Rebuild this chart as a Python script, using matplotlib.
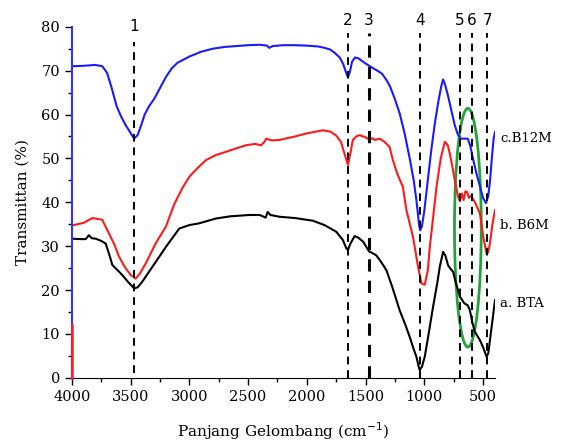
import matplotlib.pyplot as plt
from matplotlib.patches import Ellipse
from matplotlib.ticker import MultipleLocator

# FTIR spectra (wavenumber cm-1, transmittance %)
wn_b12m = [4000, 3900, 3800, 3740, 3700, 3660, 3620, 3580, 3540, 3500, 3470, 3440, 3410, 3380,
           3340, 3300, 3250, 3200, 3150, 3100, 3050, 3000, 2900, 2800, 2700, 2600, 2500, 2400,
           2340, 2320, 2290, 2200, 2100, 2000, 1900, 1850, 1800, 1760, 1720, 1690, 1665, 1650,
           1635, 1615, 1590, 1560, 1520, 1480, 1440, 1400, 1360, 1320, 1290, 1250, 1210, 1170,
           1124, 1090, 1067, 1045, 1035, 1020, 1000, 970, 940, 910, 880, 855, 840, 825, 800,
           770, 740, 715, 690, 660, 630, 610, 590, 560, 530, 500, 475, 455, 440, 425, 410, 398]
t_b12m = [71, 71.1, 71.3, 71, 69.5, 66, 62, 59.5, 57.5, 55.8, 54.5, 55.3, 57.5, 60,
          62, 63.5, 66, 68.5, 70.5, 71.8, 72.5, 73.2, 74.3, 75, 75.4, 75.6, 75.8, 75.9,
          75.7, 75.2, 75.6, 75.8, 75.8, 75.7, 75.5, 75.2, 74.8, 74, 73, 71.5, 69.5, 68.5,
          69.5, 72, 73, 72.8, 72, 71.3, 70.6, 70, 69.3, 67.8, 66.3, 63.5, 60.3, 56,
          50, 45, 40.5, 35, 33.6, 34.5, 38, 45, 52, 58, 63, 66.5, 68, 67, 64.5,
          61, 57.5, 55.5, 54.5, 54.5, 54.5, 53, 50.5, 47, 44, 41, 39.8, 41.5, 45, 50, 54.5, 56]

wn_b6m = [4000, 3900, 3826, 3780, 3741, 3684, 3640, 3598, 3550, 3498, 3456, 3420, 3370, 3285,
          3200, 3129, 3060, 3000, 2930, 2858, 2780, 2688, 2600, 2517, 2440, 2389, 2360, 2346,
          2300, 2233, 2100, 2000, 1864, 1800, 1750, 1710, 1678, 1650, 1630, 1608, 1580, 1550,
          1500, 1465, 1440, 1420, 1380, 1340, 1295, 1267, 1230, 1182, 1152, 1096, 1053, 1024,
          996, 970, 953, 925, 896, 860, 825, 800, 783, 760, 740, 712, 697, 680, 665, 650,
          635, 620, 600, 580, 560, 526, 498, 470, 455, 441, 420, 398]
t_b6m = [34.7, 35.3, 36.4, 36.2, 36, 32.9, 30.5, 27.6, 25.3, 23.4, 22.6, 23.8, 26.1, 30.7,
         34.4, 39.5, 43.2, 45.8, 47.8, 49.6, 50.7, 51.5, 52.3, 53, 53.3, 53, 53.8, 54.5,
         54.1, 54.2, 55, 55.7, 56.4, 56.1, 55.2, 53.8, 51, 48.5, 51, 54.2, 55, 55.3,
         54.8, 54.2, 54.6, 54.2, 54.5, 53.8, 52.6, 49.6, 46.5, 43.5, 38.2, 32.1, 25.3, 21.5,
         21.2, 24.5, 29.8, 36.5, 43.5, 50, 53.8, 53, 51.1, 48, 45, 41.2, 40.2, 42, 40.5, 42.5,
         42.3, 41, 41.5, 40.5, 39.5, 37.4, 32.1, 28.3, 28.6, 30.7, 35, 38.2]

wn_bta = [4000, 3930, 3882, 3854, 3830, 3797, 3750, 3712, 3680, 3655, 3610, 3570, 3520, 3470,
          3440, 3400, 3314, 3250, 3200, 3140, 3086, 3000, 2916, 2773, 2650, 2489, 2400, 2375,
          2350, 2333, 2310, 2233, 2100, 1949, 1850, 1750, 1693, 1665, 1650, 1630, 1593, 1560,
          1520, 1493, 1470, 1440, 1408, 1370, 1322, 1270, 1210, 1160, 1124, 1090, 1067, 1050,
          1040, 1020, 996, 960, 925, 890, 868, 840, 820, 797, 775, 754, 730, 697, 660, 630,
          612, 590, 570, 527, 500, 470, 455, 441, 420, 398]
t_bta = [31.7, 31.6, 31.6, 32.5, 31.8, 31.7, 31.2, 30.6, 28, 25.7, 24.5, 23.4, 21.8, 20.4,
         20.6, 21.9, 25.3, 27.8, 29.8, 32, 34, 34.8, 35.2, 36.3, 36.8, 37.1, 37.1, 36.8,
         36.5, 37.8, 37.1, 36.7, 36.4, 35.8, 34.8, 33.3, 31.4, 29.6, 29.1, 30.5, 32.3, 31.9,
         31, 29.8, 28.8, 28.4, 27.9, 26.5, 24.5, 20.5, 15.4, 12, 9.3, 6.5, 4.8, 2.8,
         1.8, 2.5, 4.8, 10.5, 16.2, 21.5, 25.3, 28.7, 27.8, 25.6, 24.8, 24.1, 21.5, 18.5, 17, 16.5,
         15.4, 12.5, 10.5, 8.6, 7, 4.8, 5.6, 8.6, 13, 17.7]

# marked absorption bands
band_labels = ['1', '2', '3', '4', '5', '6', '7']
band_pos = [3470, 1650, 1470, 1038, 697, 597, 464]

series_names = ['c.B12M', 'b. B6M', 'a. BTA']
series_label_y = [54.6, 34.7, 17]

fig = plt.figure(figsize=(5.61, 4.46), dpi=100)
ax = fig.add_axes([0.128, 0.153, 0.755, 0.787])

ax.plot(wn_b12m, t_b12m, color='#1a1aff', lw=1.5)
ax.plot(wn_b6m, t_b6m, color='#ff1a1a', lw=1.5)
ax.plot(wn_bta, t_bta, color='black', lw=1.5)

for i, (lab, x) in enumerate(zip(band_labels, band_pos)):
    top = 76.5 if i == 0 else 78.5
    bottom = 1.0 if i == 0 else 0
    lw = 2.2 if lab == '3' else 1.4
    ax.plot([x, x], [bottom, top], color='black', lw=lw, ls=(0, (4, 3)))
    ty = 80 if i == 0 else 81.5
    ax.text(x, ty, lab, ha='center', va='center', fontsize=11,
            family='DejaVu Sans', clip_on=False)

# green ellipse around bands 5-7
ax.add_patch(Ellipse((629, 34.2), width=228, height=54.4, fill=False,
                     edgecolor='#22a33a', lw=2))

for name, y in zip(series_names, series_label_y):
    ax.text(1.012, y, name, transform=ax.get_yaxis_transform(),
            fontsize=9.5, family='DejaVu Serif', va='center', ha='left')

ax.set_xlim(4000, 395)
ax.set_ylim(0, 80)
ax.xaxis.set_major_locator(MultipleLocator(500))
ax.xaxis.set_minor_locator(MultipleLocator(250))
ax.yaxis.set_major_locator(MultipleLocator(10))
ax.yaxis.set_minor_locator(MultipleLocator(5))
ax.tick_params(which='major', length=5, width=1, labelsize=10.5, direction='out')
ax.tick_params(which='minor', length=3, width=1, direction='out')
for lbl in ax.get_xticklabels() + ax.get_yticklabels():
    lbl.set_family('DejaVu Serif')

ax.spines['top'].set_visible(False)
ax.spines['right'].set_visible(False)
ax.spines['left'].set_color('#3333ff')
ax.spines['left'].set_linewidth(1.5)
# lower part of the left edge is red in the original
ax.plot([4000, 4000], [0, 12], color='#ff2020', lw=1.8, clip_on=False, zorder=10)

ax.set_xlabel('Panjang Gelombang (cm$^{-1}$)', family='DejaVu Serif', fontsize=11, labelpad=12)
ax.set_ylabel('Transmittan (%)', family='DejaVu Serif', fontsize=11, labelpad=8)

fig.savefig('out.png', dpi=100)
